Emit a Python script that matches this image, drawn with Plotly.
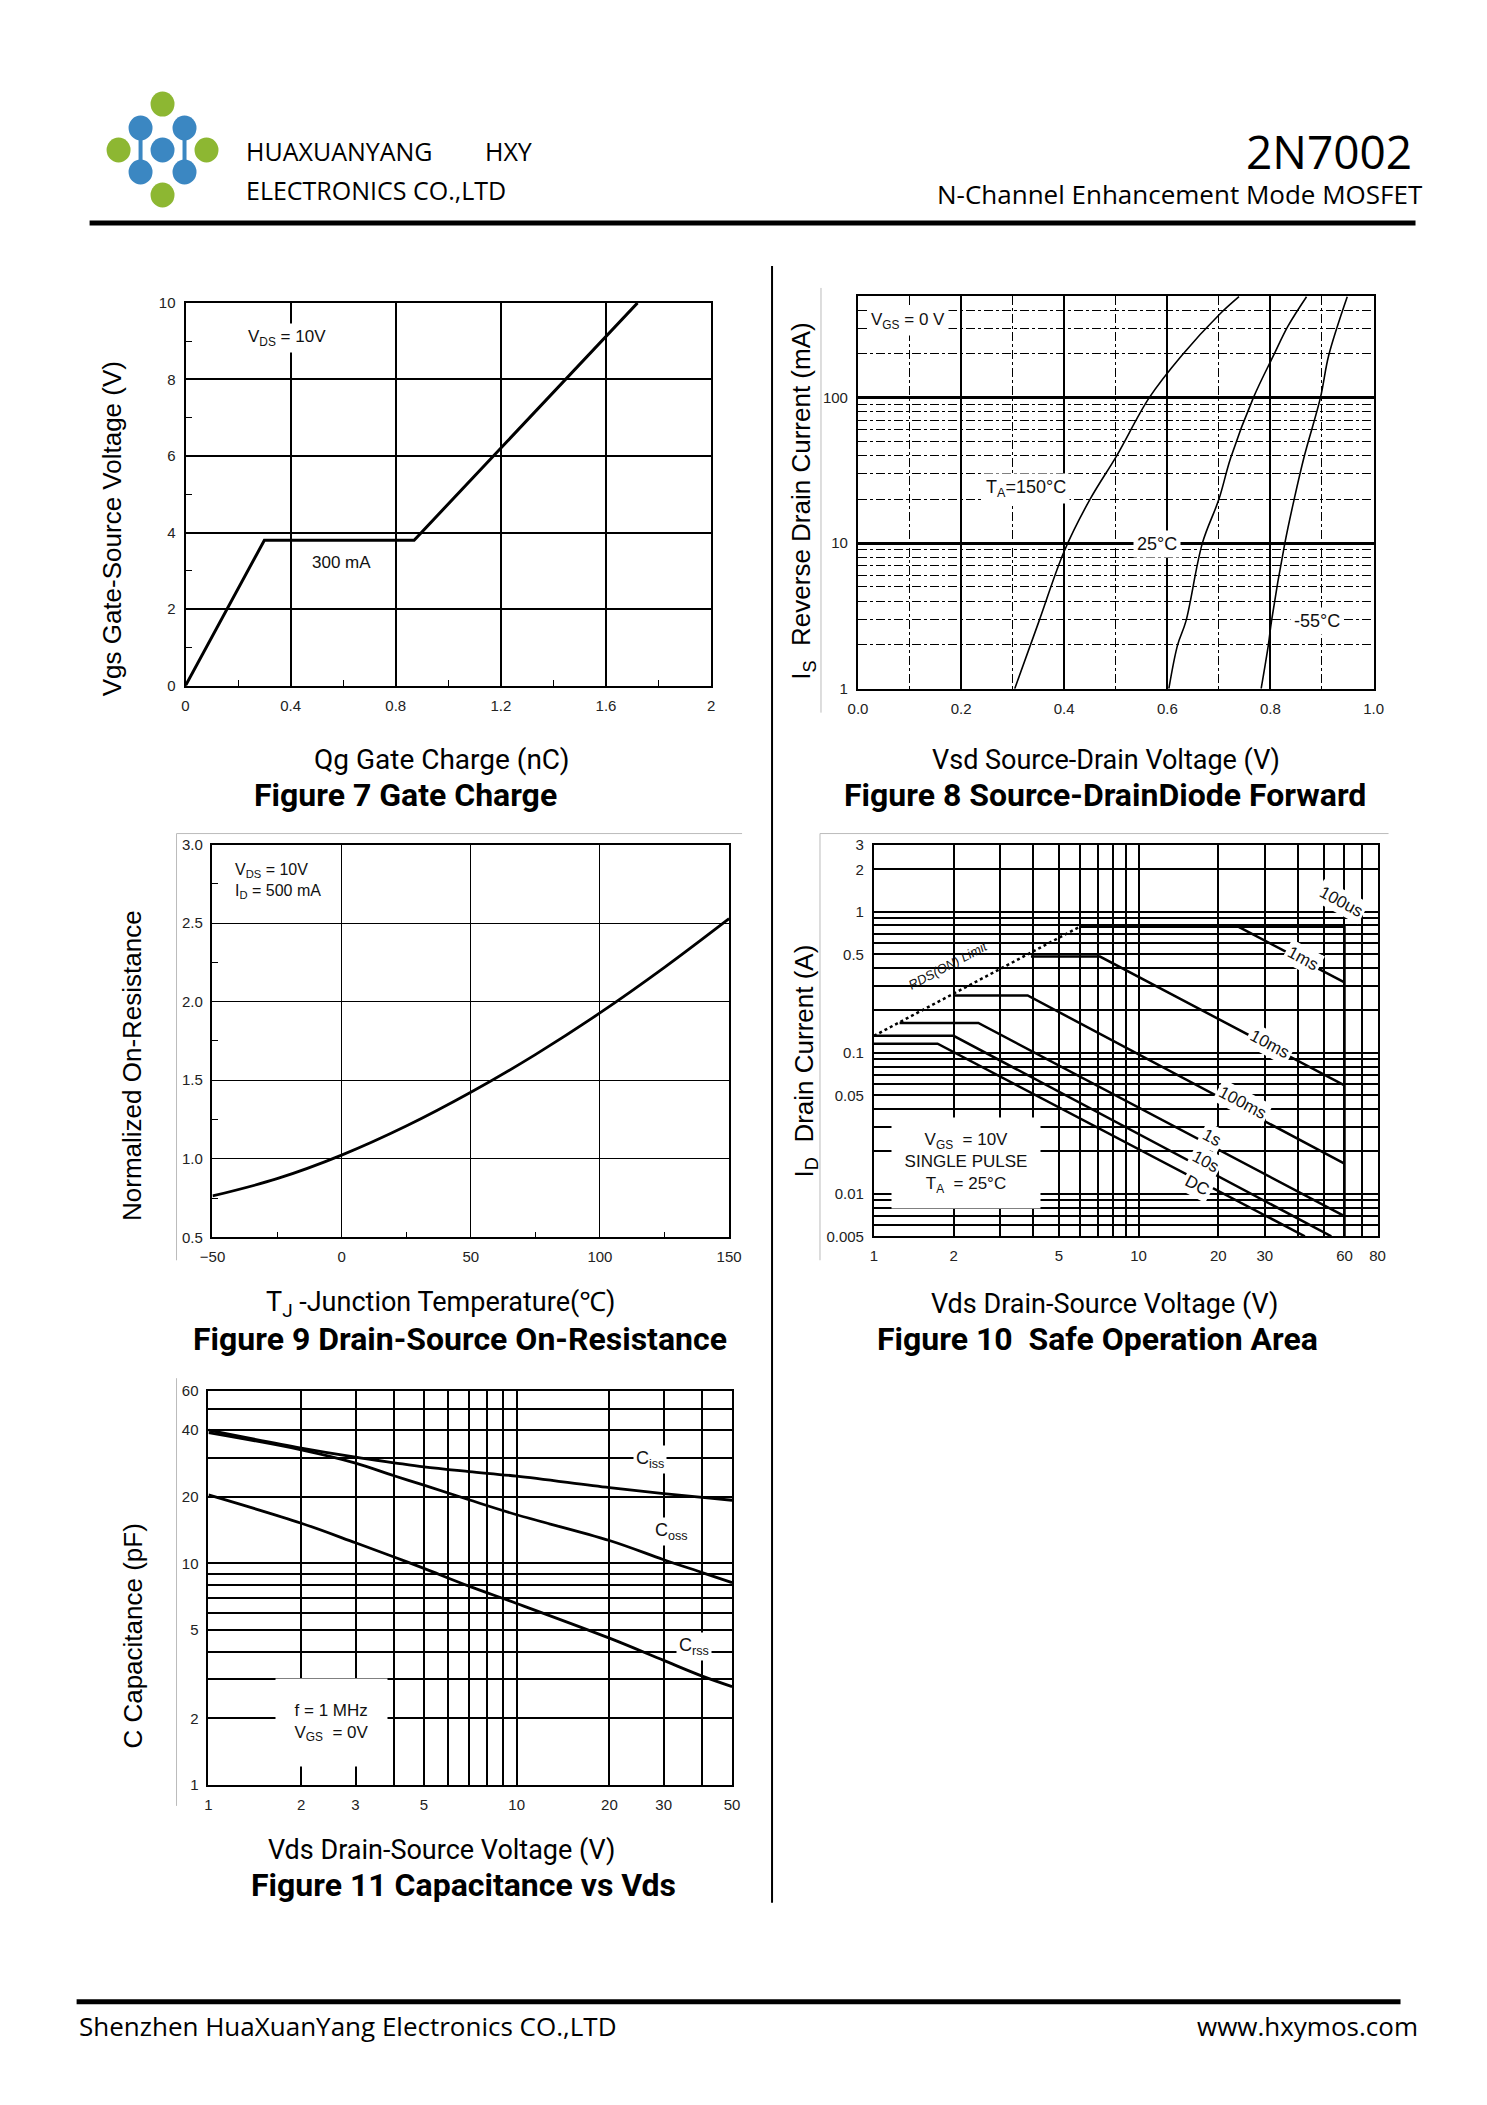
import math
import plotly.graph_objects as go

W, H = 1487, 2105
M = 8                      # default page margin of the browser body
FW, FH = 1460, 2070        # figure kept a little smaller than the window
SX, OX = 1.0173, -12.7     # page-position calibration (horizontal)
SY, OY = 1.0076, -7.0      # page-position calibration (vertical)

# ---------------- data ----------------
# Figure 7: gate charge
qg_nc = [0, 0.30, 0.87, 1.72]
vgs_v = [0, 3.8, 3.8, 10]

# Figure 8: source-drain diode forward (Vsd in V, Is in mA)
vsd_150c = [0.304, 0.351, 0.400, 0.450, 0.502, 0.565, 0.628, 0.700, 0.739]
is_150c = [1, 2.9, 8.8, 20, 40, 100, 195, 370, 494]
vsd_25c = [0.603, 0.620, 0.636, 0.668, 0.700, 0.723, 0.767, 0.806, 0.834, 0.870]
is_25c = [1, 2.0, 2.9, 10, 20, 38.6, 100, 195, 310, 494]
vsd_m55c = [0.782, 0.796, 0.802, 0.828, 0.846, 0.866, 0.897, 0.913, 0.949]
is_m55c = [1, 2, 2.9, 10, 20, 40, 100, 195, 494]

# Figure 9: normalized on-resistance vs Tj
tj_c = [-50, -25, 0, 25, 50, 75, 100, 125, 150]
rds_norm = [0.763, 0.873, 1.023, 1.208, 1.423, 1.663, 1.928, 2.218, 2.528]

# Figure 10: safe operating area (Vds in V, Id in A)
rds_limit_v = [1, 6.0]
rds_limit_i = [0.132, 0.785]
soa_100us_v = [6.0, 60, 60]
soa_100us_i = [0.785, 0.785, 0.005]
soa_1ms_v = [23.8, 60]
soa_1ms_i = [0.785, 0.316]
soa_10ms_v = [3.92, 7.15, 60]
soa_10ms_i = [0.482, 0.482, 0.0587]
soa_100ms_v = [2.0, 3.81, 60]
soa_100ms_i = [0.255, 0.255, 0.0164]
soa_1s_v = [1.25, 2.48, 60]
soa_1s_i = [0.163, 0.163, 0.00694]
soa_10s_v = [1, 2.0, 53.5]
soa_10s_i = [0.132, 0.132, 0.005]
soa_dc_v = [1, 1.74, 42.5]
soa_dc_i = [0.116, 0.116, 0.005]

# Figure 11: capacitance vs Vds (pF)
vds_cap = [1, 2, 3, 4, 5, 7, 10, 20, 30, 40, 50]
ciss_pf = [40.0, 33.2, 30.2, 28.5, 27.3, 26.0, 24.8, 22.0, 20.7, 19.9, 19.3]
coss_pf = [39.0, 32.6, 28.4, 24.9, 22.6, 19.4, 16.6, 12.7, 10.4, 9.1, 8.2]
crss_pf = [20.4, 15.2, 12.4, 10.7, 9.5, 7.9, 6.6, 4.6, 3.65, 3.1, 2.78]

# tick labels / grid values
f7_xticks = [0, 0.4, 0.8, 1.2, 1.6, 2]
f7_xtext = ["0", "0.4", "0.8", "1.2", "1.6", "2"]
f7_yticks = [0, 2, 4, 6, 8, 10]
f8_xticks = [0, 0.2, 0.4, 0.6, 0.8, 1.0]
f8_xtext = ["0.0", "0.2", "0.4", "0.6", "0.8", "1.0"]
f8_yticks = [1, 10, 100]
f8_yminor = [2, 3, 4, 5, 6, 7, 8, 9, 20, 30, 40, 50, 60, 70, 80, 90, 200, 300, 400]
f9_xticks = [-50, 0, 50, 100, 150]
f9_yticks = [0.5, 1.0, 1.5, 2.0, 2.5, 3.0]
f9_ytext = ["0.5", "1.0", "1.5", "2.0", "2.5", "3.0"]
f10_xticks = [1, 2, 5, 10, 20, 30, 60, 80]
f10_xminor = [3, 4, 6, 7, 8, 9, 40, 50, 70]
f10_yticks = [0.005, 0.01, 0.05, 0.1, 0.5, 1, 2, 3]
f10_ytext = ["0.005", "0.01", "0.05", "0.1", "0.5", "1", "2", "3"]
f10_yminor = [0.006, 0.007, 0.008, 0.009, 0.02, 0.03, 0.04, 0.06, 0.07, 0.08,
              0.09, 0.2, 0.3, 0.4, 0.6, 0.7, 0.8, 0.9]
f11_xticks = [1, 2, 3, 5, 10, 20, 30, 50]
f11_xminor = [4, 6, 7, 8, 9, 40]
f11_yticks = [1, 2, 5, 10, 20, 40, 60]
f11_yminor = [3, 4, 6, 7, 8, 9, 30, 50]

# ---------------- helpers ----------------
def px(x):
    return (SX * x + OX - M) / FW

def py(y):
    return 1 - (SY * y + OY - M) / FH

def dom_x(a, b):
    return [px(a), px(b)]

def dom_y(top, bottom):
    return [py(bottom), py(top)]

TICKFONT = dict(family="Liberation Sans Narrow, Arial Narrow, Liberation Sans, Arial", size=15, color="#222")
LABELFONT = "Roboto, Noto Sans, sans-serif"
ARIAL = "Liberation Sans, Arial, sans-serif"
HDR = "Open Sans, Noto Sans, sans-serif"

fig = go.Figure()

def line(x, y, xa, ya, width=2.5, dash="solid", shape="linear"):
    fig.add_trace(go.Scatter(x=x, y=y, xaxis=xa, yaxis=ya, mode="lines",
                             line=dict(color="black", width=width, dash=dash, shape=shape,
                                       smoothing=1.0),
                             showlegend=False, hoverinfo="skip"))

line(qg_nc, vgs_v, "x", "y", 3)
line(vsd_150c, is_150c, "x2", "y2", 1.6, shape="spline")
line(vsd_25c, is_25c, "x2", "y2", 1.6, shape="spline")
line(vsd_m55c, is_m55c, "x2", "y2", 1.6, shape="spline")
line(tj_c, rds_norm, "x3", "y3", 2.8, shape="spline")
line(rds_limit_v, rds_limit_i, "x4", "y4", 2.5, "dot")
for v, i in [(soa_100us_v, soa_100us_i), (soa_1ms_v, soa_1ms_i), (soa_10ms_v, soa_10ms_i),
             (soa_100ms_v, soa_100ms_i), (soa_1s_v, soa_1s_i), (soa_10s_v, soa_10s_i),
             (soa_dc_v, soa_dc_i)]:
    line(v, i, "x4", "y4", 2.5)
line(vds_cap, ciss_pf, "x5", "y5", 2.8, shape="spline")
line(vds_cap, coss_pf, "x5", "y5", 2.8, shape="spline")
line(vds_cap, crss_pf, "x5", "y5", 2.8, shape="spline")

base = dict(showline=True, mirror=True, linecolor="black", linewidth=2,
            showgrid=True, gridcolor="black", zeroline=False, ticks="",
            tickfont=TICKFONT, fixedrange=True, ticklabelstandoff=5)

def ax(**kw):
    d = dict(base)
    d.update(kw)
    return d

layout = dict(
    width=FW, height=FH, autosize=False,
    margin=dict(l=0, r=0, t=0, b=0),
    paper_bgcolor="white", plot_bgcolor="white",
    showlegend=False,
    # Fig 7
    xaxis=ax(domain=dom_x(185, 711), range=[0, 2], tickmode="array", tickvals=f7_xticks,
             ticktext=f7_xtext, gridwidth=2, anchor="y",
             minor=dict(tickmode="array", tickvals=[0.2, 0.6, 1.0, 1.4, 1.8], ticks="inside",
                        ticklen=6, tickcolor="black", showgrid=False)),
    yaxis=ax(domain=dom_y(301, 684), range=[0, 10], tickmode="array", tickvals=f7_yticks,
             gridwidth=2, anchor="x",
             minor=dict(tickmode="array", tickvals=[1, 3, 5, 7, 9], ticks="inside",
                        ticklen=6, tickcolor="black", showgrid=False)),
    # Fig 8
    xaxis2=ax(domain=dom_x(858, 1374), range=[0, 1], tickmode="array", tickvals=f8_xticks,
              ticktext=f8_xtext, gridwidth=2, anchor="y2",
              minor=dict(tickmode="array", tickvals=[0.1, 0.3, 0.5, 0.7, 0.9], showgrid=True,
                         gridcolor="black", gridwidth=1.3, griddash="dashdot")),
    yaxis2=ax(domain=dom_y(294, 687), type="log", range=[0, math.log10(500)], tickmode="array",
              tickvals=f8_yticks, ticktext=["1", "10", "100"], gridwidth=2.5, anchor="x2",
              minor=dict(tickmode="array", tickvals=f8_yminor, showgrid=True,
                         gridcolor="black", gridwidth=1.3, griddash="dashdot")),
    # Fig 9
    xaxis3=ax(domain=dom_x(212, 729), range=[-50, 150], tickmode="array", tickvals=f9_xticks,
              gridwidth=1.2, anchor="y3", linewidth=1.5,
              minor=dict(tickmode="array", tickvals=[-25, 25, 75, 125], ticks="inside",
                         ticklen=6, tickcolor="black", showgrid=False)),
    yaxis3=ax(domain=dom_y(843, 1236), range=[0.5, 3.0], tickmode="array", tickvals=f9_yticks,
              ticktext=f9_ytext, gridwidth=1.2, anchor="x3", linewidth=1.5,
              minor=dict(tickmode="array", tickvals=[0.75, 1.25, 1.75, 2.25, 2.75], ticks="inside",
                         ticklen=6, tickcolor="black", showgrid=False)),
    # Fig 10
    xaxis4=ax(domain=dom_x(874, 1378), type="log", range=[0, math.log10(80)], tickmode="array",
              tickvals=f10_xticks, ticktext=[str(v) for v in f10_xticks], gridwidth=2, anchor="y4",
              minor=dict(tickmode="array", tickvals=f10_xminor, showgrid=True,
                         gridcolor="black", gridwidth=2)),
    yaxis4=ax(domain=dom_y(843, 1235), type="log", range=[math.log10(0.005), math.log10(3)],
              tickmode="array", tickvals=f10_yticks, ticktext=f10_ytext, gridwidth=2, anchor="x4",
              minor=dict(tickmode="array", tickvals=f10_yminor, showgrid=True,
                         gridcolor="black", gridwidth=2)),
    # Fig 11
    xaxis5=ax(domain=dom_x(208, 732), type="log", range=[0, math.log10(50)], tickmode="array",
              tickvals=f11_xticks, ticktext=[str(v) for v in f11_xticks], gridwidth=2, anchor="y5",
              minor=dict(tickmode="array", tickvals=f11_xminor, showgrid=True,
                         gridcolor="black", gridwidth=2)),
    yaxis5=ax(domain=dom_y(1390, 1784), type="log", range=[0, math.log10(60)], tickmode="array",
              tickvals=f11_yticks, ticktext=[str(v) for v in f11_yticks], gridwidth=2, anchor="x5",
              minor=dict(tickmode="array", tickvals=f11_yminor, showgrid=True,
                         gridcolor="black", gridwidth=2)),
)
fig.update_layout(**layout)

ann = []

def paper_text(text, x, y, size, family, xanchor="center", color="black", angle=0, bold=False):
    if bold:
        text = "<b>" + text + "</b>"
    ann.append(dict(text=text, x=px(x), y=py(y), xref="paper", yref="paper",
                    xanchor=xanchor, yanchor="middle", showarrow=False, textangle=angle,
                    font=dict(family=family, size=size, color=color)))

def data_text(text, x, y, xr, yr, size=16, bg="white", angle=0, xanchor="center",
              align="center", w=None, h=None, pad=1, family=ARIAL):
    d = dict(text=text, x=x, y=y, xref=xr, yref=yr, showarrow=False, textangle=angle,
             xanchor=xanchor, yanchor="middle", align=align, bgcolor=bg, borderpad=pad,
             font=dict(family=family, size=size, color="#111"))
    if w:
        d["width"] = w
    if h:
        d["height"] = h
    ann.append(d)

L = math.log10

# header
paper_text("HUAXUANYANG", 244, 149, 25, HDR, "left")
paper_text("HXY", 483, 149, 25, HDR, "left")
paper_text("ELECTRONICS CO.,LTD", 244, 188, 25, HDR, "left")
paper_text("2N7002", 1414, 149, 46, HDR, "right")
paper_text("N-Channel Enhancement Mode MOSFET", 1425, 192, 26, HDR, "right")
# footer
paper_text("Shenzhen HuaXuanYang Electronics CO.,LTD", 76, 2025, 26, HDR, "left")
paper_text("www.hxymos.com", 1420, 2025, 26, HDR, "right")

# axis titles / figure titles
YL, XL, TL = 26, 27, 32
paper_text("Vgs Gate-Source Voltage (V)", 111, 527, YL, ARIAL, angle=-90)
paper_text("Qg Gate Charge (nC)", 441, 758, 28, LABELFONT)
paper_text("Figure 7 Gate Charge", 405, 793, TL, LABELFONT, bold=True)

paper_text("I<sub>S</sub>  Reverse Drain Current (mA)", 803, 500, YL, ARIAL, angle=-90)
paper_text("Vsd Source-Drain Voltage (V)", 1106, 758, XL, LABELFONT)
paper_text("Figure 8 Source-DrainDiode Forward", 1105, 793, TL, LABELFONT, bold=True)

paper_text("Normalized On-Resistance", 132, 1064, YL, ARIAL, angle=-90)
paper_text("T<sub>J</sub> -Junction Temperature(℃)", 440, 1303, XL, LABELFONT)
paper_text("Figure 9 Drain-Source On-Resistance", 460, 1338, TL, LABELFONT, bold=True)

paper_text("I<sub>D</sub>  Drain Current (A)", 805, 1060, YL, ARIAL, angle=-90)
paper_text("Vds Drain-Source Voltage (V)", 1105, 1303, XL, LABELFONT)
paper_text("Figure 10  Safe Operation Area", 1098, 1338, TL, LABELFONT, bold=True)

paper_text("C Capacitance (pF)", 132, 1635, YL, ARIAL, angle=-90)
paper_text("Vds Drain-Source Voltage (V)", 441, 1849, XL, LABELFONT)
paper_text("Figure 11 Capacitance vs Vds", 463, 1884, TL, LABELFONT, bold=True)

# in-plot notes
data_text("V<sub>DS</sub> = 10V", 0.224, 9.09, "x", "y", 17, xanchor="left", pad=3)
data_text("300 mA", 0.594, 3.22, "x", "y", 17, bg="rgba(0,0,0,0)")

data_text("V<sub>GS</sub> = 0 V", 0.098, L(338), "x2", "y2", 17, pad=3)
data_text("T<sub>A</sub>=150°C", 0.325, L(23.6), "x2", "y2", 18, pad=3)
data_text("25°C", 0.58, L(9.8), "x2", "y2", 18, pad=3)
data_text("-55°C", 0.89, L(2.9), "x2", "y2", 18, pad=3)

data_text("V<sub>DS</sub> = 10V<br>I<sub>D</sub> = 500 mA", -44, 2.77, "x3", "y3", 16,
          xanchor="left", align="left", pad=6)

data_text("V<sub>GS</sub>  = 10V<br>SINGLE PULSE<br>T<sub>A</sub>  = 25°C", L(2.23), L(0.0165),
          "x4", "y4", 17, w=146, h=88)
data_text("<i>RDS(ON) Limit</i>", L(1.9), L(0.419), "x4", "y4", 13, bg="rgba(0,0,0,0)", angle=-28)
for txt, xv, yv in [("100us", 58, 1.18), ("1ms", 41.8, 0.469), ("10ms", 31.5, 0.115),
                    ("100ms", 24.6, 0.0443), ("1s", 18.9, 0.0252), ("10s", 17.9, 0.017),
                    ("DC", 16.7, 0.0115)]:
    data_text(txt, L(xv), L(yv), "x4", "y4", 17, angle=28, pad=2)

data_text("C<sub>iss</sub>", L(27), L(29.4), "x5", "y5", 18, pad=2)
data_text("C<sub>oss</sub>", L(31.7), L(13.9), "x5", "y5", 18, pad=2)
data_text("C<sub>rss</sub>", L(37.6), L(4.2), "x5", "y5", 18, pad=2)
data_text("f = 1 MHz<br>V<sub>GS</sub>  = 0V", L(2.5), L(1.92), "x5", "y5", 17, w=109, h=85)

fig.update_layout(annotations=ann)

# decorative shapes: header / footer rules, divider, faint frames, logo
shapes = []

def pline(x0, y0, x1, y1, w, color="black"):
    shapes.append(dict(type="line", xref="paper", yref="paper", x0=px(x0), y0=py(y0),
                       x1=px(x1), y1=py(y1), line=dict(color=color, width=w)))

pline(89, 221, 1416, 221, 5)
pline(76, 2001, 1401, 2001, 5)
pline(772, 264, 772, 1902, 2)
pline(821, 286, 821, 711, 1, "#bbb")
pline(176, 832, 176, 1259, 1, "#bbb")
pline(176, 832, 742, 832, 1, "#bbb")
pline(820, 832, 820, 1259, 1, "#bbb")
pline(820, 832, 1389, 832, 1, "#bbb")
pline(176, 1377, 176, 1805, 1, "#bbb")

GREEN = "#8db732"
BLUE = "#3b87c2"
logo_dots = [(162, 102, GREEN), (140, 126, BLUE), (184, 126, BLUE), (118, 148, GREEN),
             (162, 148, BLUE), (206, 148, GREEN), (140, 170, BLUE), (184, 170, BLUE),
             (162, 193, GREEN)]
for cx, cy, col in logo_dots:
    shapes.append(dict(type="circle", xref="paper", yref="paper",
                       x0=px(cx - 12), x1=px(cx + 12), y0=py(cy + 12.5), y1=py(cy - 12.5),
                       fillcolor=col, line=dict(width=0)))
# thin necks joining the blue dots on each side
for nx in (140, 184):
    shapes.append(dict(type="rect", xref="paper", yref="paper",
                       x0=px(nx - 2), x1=px(nx + 2), y0=py(160), y1=py(136),
                       fillcolor=BLUE, line=dict(width=0)))

fig.update_layout(shapes=shapes)

fig.write_html("out.html")
